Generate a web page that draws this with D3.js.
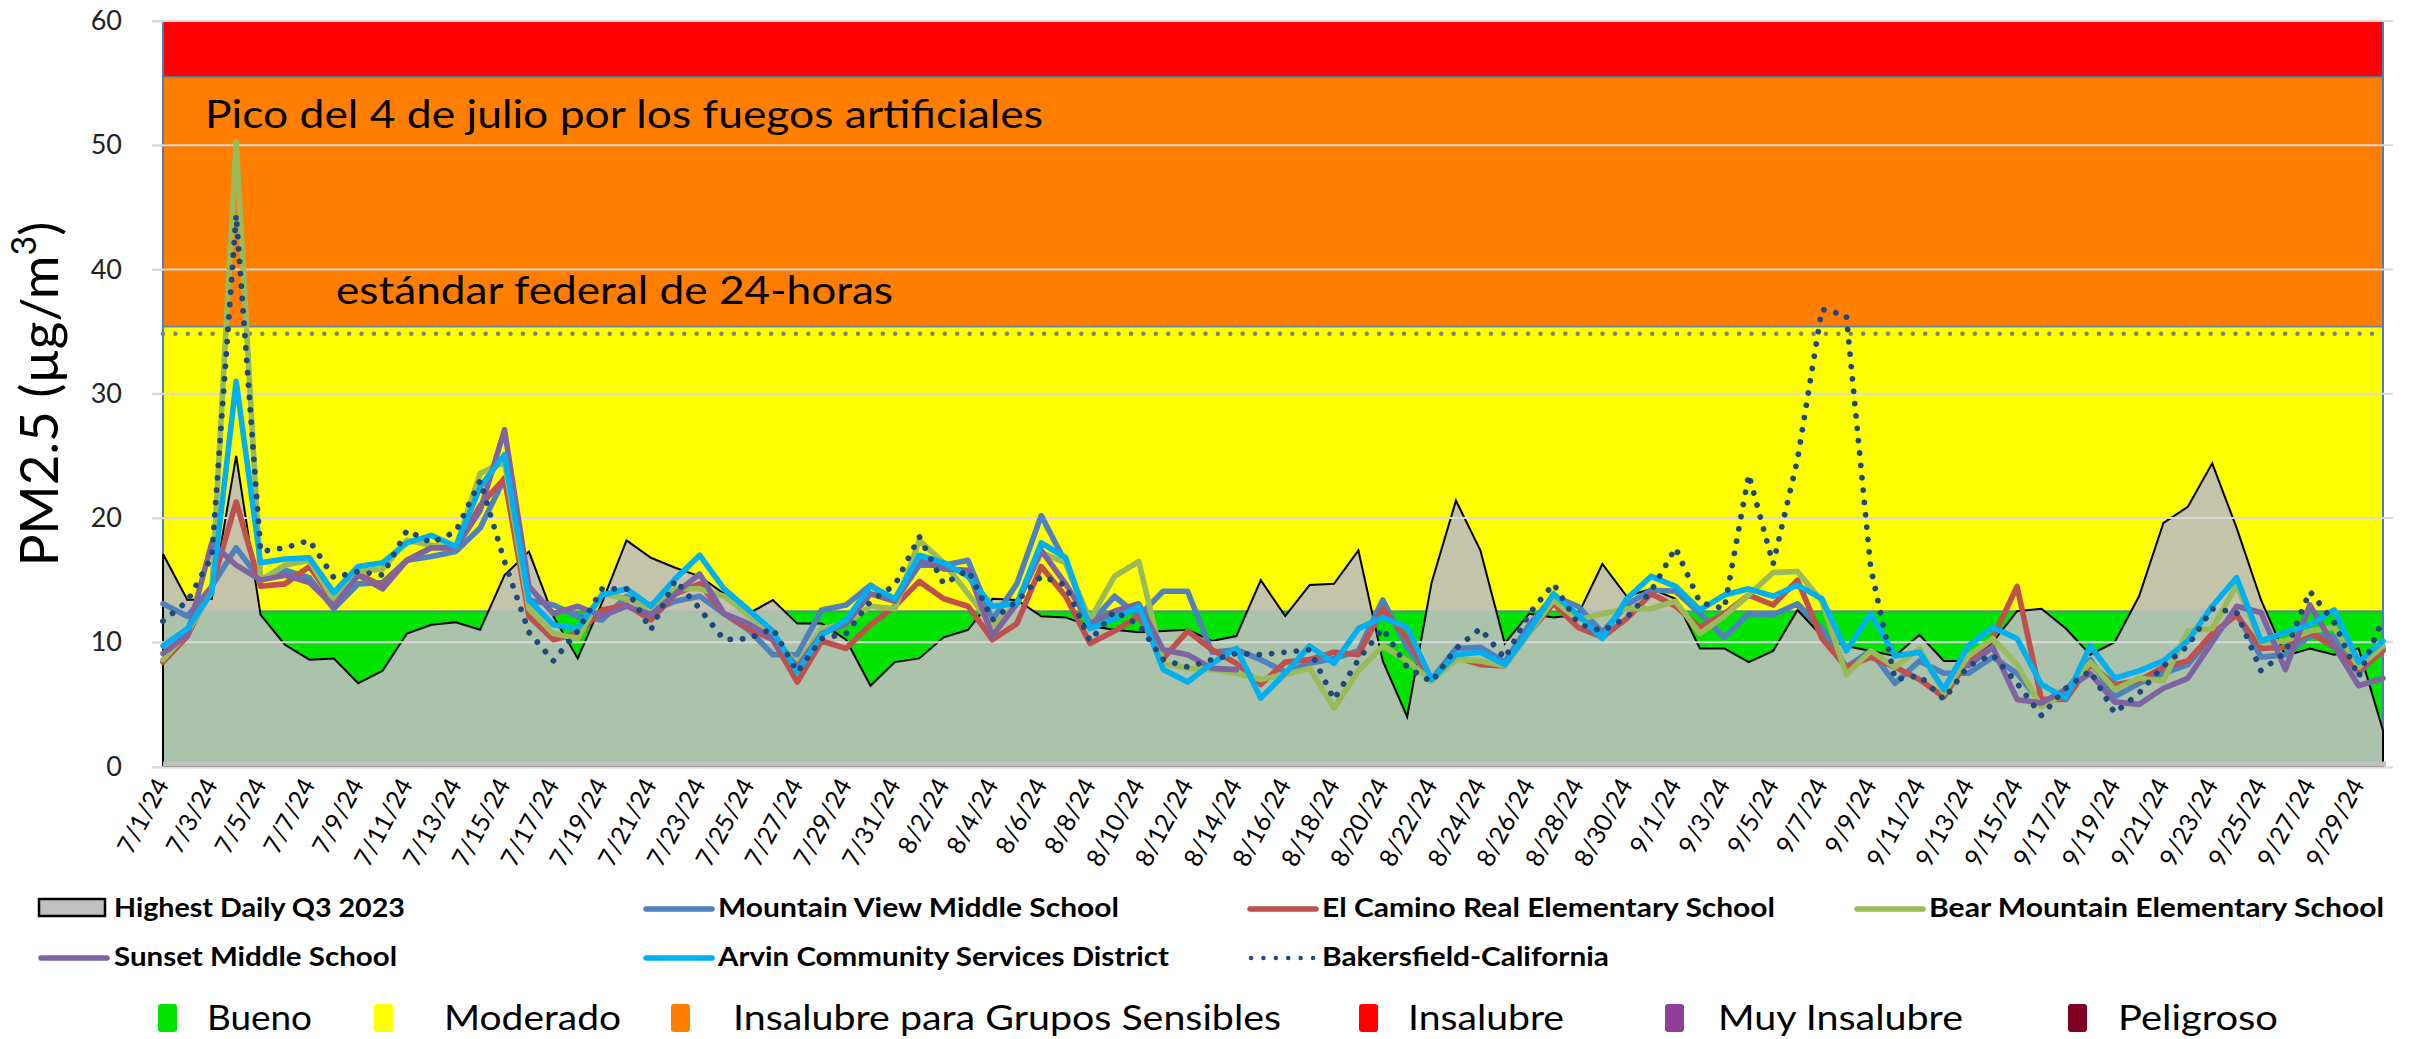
<!DOCTYPE html>
<html><head><meta charset="utf-8">
<script src="https://cdn.jsdelivr.net/npm/d3@7"></script>
<style>body{margin:0;background:#fff} svg{display:block}</style>
</head><body><svg id="c" width="2415" height="1039"></svg>
<script>
const categories = [
"7/1/24","7/2/24","7/3/24","7/4/24","7/5/24","7/6/24","7/7/24","7/8/24","7/9/24","7/10/24",
"7/11/24","7/12/24","7/13/24","7/14/24","7/15/24","7/16/24","7/17/24","7/18/24","7/19/24","7/20/24",
"7/21/24","7/22/24","7/23/24","7/24/24","7/25/24","7/26/24","7/27/24","7/28/24","7/29/24","7/30/24","7/31/24",
"8/1/24","8/2/24","8/3/24","8/4/24","8/5/24","8/6/24","8/7/24","8/8/24","8/9/24","8/10/24",
"8/11/24","8/12/24","8/13/24","8/14/24","8/15/24","8/16/24","8/17/24","8/18/24","8/19/24","8/20/24",
"8/21/24","8/22/24","8/23/24","8/24/24","8/25/24","8/26/24","8/27/24","8/28/24","8/29/24","8/30/24","8/31/24",
"9/1/24","9/2/24","9/3/24","9/4/24","9/5/24","9/6/24","9/7/24","9/8/24","9/9/24","9/10/24",
"9/11/24","9/12/24","9/13/24","9/14/24","9/15/24","9/16/24","9/17/24","9/18/24","9/19/24","9/20/24",
"9/21/24","9/22/24","9/23/24","9/24/24","9/25/24","9/26/24","9/27/24","9/28/24","9/29/24","9/30/24"];

const highestQ3_2023 = [17.1,13.4,13.5,25.0,12.2,9.8,8.6,8.7,6.7,7.7,10.7,11.4,11.6,11.0,15.4,17.3,12.1,8.7,13.2,18.2,
16.8,16.0,15.3,13.9,12.3,13.4,11.5,11.5,10.2,6.5,8.4,8.7,10.4,11.0,13.5,13.4,12.1,12.0,11.3,11.0,
10.8,10.9,11.0,10.1,10.5,15.0,12.1,14.6,14.7,17.4,8.5,4.0,14.8,21.4,17.4,9.9,12.3,12.0,12.2,16.3,
13.7,14.3,13.5,9.5,9.5,8.4,9.3,12.6,10.5,9.7,9.3,8.9,10.6,8.5,8.5,10.0,12.5,12.7,11.1,9.0,
10.0,13.7,19.6,20.9,24.4,19.2,13.4,8.9,9.5,9.0,9.5,2.9];

const mountainView = [13.1,12.1,14.5,17.6,15.0,15.8,15.2,12.7,14.7,14.8,16.6,16.9,17.3,19.2,23.2,13.4,13.0,12.1,11.8,13.7,
12.5,13.3,13.7,12.3,11.0,9.0,9.0,12.6,13.0,14.6,13.3,16.2,16.2,16.6,11.8,14.7,20.2,16.4,11.5,13.7,
12.1,14.1,14.1,9.2,9.4,8.6,7.6,8.3,8.7,9.3,13.4,9.6,7.0,9.5,9.6,8.4,11.4,13.7,12.9,10.8,
13.0,14.2,14.1,12.3,10.4,12.3,12.2,13.1,11.1,8.0,9.3,6.7,8.5,7.5,7.5,8.8,7.5,5.1,6.1,8.6,
5.6,6.7,7.5,8.2,10.5,12.3,8.8,9.0,10.5,10.5,7.5,9.5];

const elCamino = [8.4,10.5,14.5,21.3,14.5,14.7,16.1,13.3,15.5,14.5,16.6,17.6,17.6,21.0,23.2,12.1,10.2,10.7,12.6,13.0,
11.8,13.9,14.7,12.3,11.1,10.2,6.8,10.1,9.5,11.4,12.9,14.9,13.5,12.9,10.2,11.5,16.1,13.7,9.9,10.9,
12.1,8.7,10.9,9.4,8.3,6.6,8.4,8.6,9.2,9.0,12.7,10.3,6.9,8.8,8.2,8.1,10.8,13.1,11.2,10.4,
11.9,13.9,12.9,11.2,12.3,13.8,13.0,15.0,10.3,8.0,8.8,8.0,7.0,5.6,8.6,10.3,14.5,5.4,5.4,8.2,
6.6,6.9,8.0,8.5,10.7,12.2,9.5,9.6,10.8,9.6,7.7,9.3];

const bearMountain = [8.6,10.8,14.1,50.3,15.0,16.2,16.6,13.4,15.7,15.9,18.2,17.8,17.6,23.6,24.5,12.7,10.7,10.3,13.9,13.5,
12.7,14.3,14.3,13.7,12.2,10.5,8.2,11.1,11.5,12.9,12.7,18.2,16.4,13.9,11.3,13.1,17.2,16.4,11.8,15.3,
16.5,8.3,7.9,7.8,7.5,7.0,7.4,7.9,4.7,7.7,9.7,8.5,6.9,8.6,8.5,8.1,10.8,13.4,11.8,12.3,
12.7,12.7,13.3,10.7,12.1,13.8,15.6,15.7,13.3,7.4,9.3,8.0,9.5,5.9,8.9,10.3,8.2,4.8,5.9,8.4,
6.2,7.1,6.9,10.9,11.1,14.6,10.0,10.1,10.9,11.2,8.0,9.7];

const sunset = [9.1,10.6,18.0,16.2,15.0,15.4,14.8,12.9,15.4,14.3,16.6,17.6,17.6,20.6,27.1,14.5,12.3,12.9,12.1,12.9,
12.2,13.9,15.5,12.3,11.5,10.3,8.0,10.7,11.5,13.9,13.3,16.6,15.9,15.8,10.5,13.1,17.4,14.7,11.5,12.5,
13.1,9.4,9.0,7.9,7.8,null,null,null,null,null,null,null,null,null,null,null,null,null,null,null,
null,null,null,null,null,null,null,null,null,null,null,null,null,null,8.1,9.6,5.4,5.1,6.2,7.5,
5.2,5.0,6.3,7.1,10.0,12.9,12.4,7.8,13.0,9.7,6.5,7.1];

const arvin = [9.7,11.1,14.0,31.0,16.4,16.7,16.8,14.0,16.1,16.4,18.0,18.6,17.7,22.5,25.1,13.4,11.4,11.1,13.8,14.3,
12.9,15.1,17.0,14.3,12.6,10.9,7.6,10.6,11.8,14.5,13.5,17.0,16.4,15.3,12.9,13.1,18.0,16.8,11.1,11.9,
12.9,7.8,6.8,8.3,9.5,5.5,7.5,9.7,8.3,11.1,12.0,11.2,7.0,9.0,9.2,8.2,10.9,13.9,12.2,10.3,
13.5,15.3,14.5,12.6,13.8,14.3,13.7,14.6,13.5,9.3,12.3,8.9,9.2,6.2,9.7,11.2,10.3,6.6,5.5,9.7,
7.1,7.7,8.5,10.1,12.9,15.2,10.1,10.8,11.4,12.6,8.4,10.1];

const bakersfield = [11.7,13.3,16.9,44.4,17.3,17.6,18.2,15.2,15.7,15.4,19.0,18.0,18.9,23.0,16.5,10.8,8.5,10.9,14.3,14.3,
11.0,15.0,12.7,10.2,10.3,11.1,7.6,10.3,10.7,13.3,14.6,18.5,14.7,15.8,11.8,13.3,15.3,14.6,10.1,12.5,
11.4,8.6,8.0,8.6,9.1,9.0,9.2,9.4,5.4,8.6,11.1,8.0,6.8,9.5,11.1,8.7,12.3,14.7,11.5,10.9,
12.0,14.1,17.6,13.2,12.7,23.5,16.3,24.7,36.8,36.3,16.0,7.0,7.3,5.4,8.1,9.0,6.7,4.1,6.3,7.7,
4.3,5.9,8.1,9.7,12.7,12.4,7.7,9.2,14.1,11.6,7.2,11.9];

const seriesNames = ["Highest Daily Q3 2023","Mountain View Middle School","El Camino Real Elementary School",
  "Bear Mountain Elementary School","Sunset Middle School","Arvin Community Services District","Bakersfield-California"];
const seriesColors = ["#c0c0c0","#4f81bd","#c0504d","#9bbb59","#8064a2","#00b0f0","#1f497d"];

const yTicks = [0,10,20,30,40,50,60];
const xTickLabels = categories.filter((d,i)=>i%2===0);
const federalStandard = 35;

const aqiNames = ["Bueno","Moderado","Insalubre para Grupos Sensibles","Insalubre","Muy Insalubre","Peligroso"];
const aqiColors = ["#00e400","#ffff00","#ff7e00","#ff0000","#8f3f97","#7e0023"];
const aqiBreaks = [0,12.5,35.4,55.5,60];

const annotations = ["Pico del 4 de julio por los fuegos artificiales","estándar federal de 24-horas"];

// ---------- layout ----------
const svg = d3.select("#c");
const L = 163, R = 2383, T = 21, B = 766.5;
const FONT = "Lato, 'Open Sans', sans-serif";
const x = d3.scalePoint().domain(categories).range([L, R]).padding(0);
const y = d3.scaleLinear().domain([0,60]).range([B, T]);

// AQI bands
const bands = svg.append("g");
for (let k = 0; k < aqiBreaks.length - 1; k++) {
  bands.append("rect")
    .attr("x", L).attr("width", R - L)
    .attr("y", y(aqiBreaks[k+1])).attr("height", y(aqiBreaks[k]) - y(aqiBreaks[k+1]))
    .attr("fill", aqiColors[k]);
}
for (let k = 1; k < aqiBreaks.length; k++) {
  bands.append("line").attr("x1", L).attr("x2", R)
    .attr("y1", y(aqiBreaks[k])).attr("y2", y(aqiBreaks[k]))
    .attr("stroke", "#4a7ebb").attr("stroke-width", k===1?2:1.6).attr("opacity", 0.85);
}
bands.append("line").attr("x1", L).attr("x2", L).attr("y1", T).attr("y2", B).attr("stroke", "#4a7ebb").attr("stroke-width", 2);
bands.append("line").attr("x1", R).attr("x2", R).attr("y1", T).attr("y2", B).attr("stroke", "#4a7ebb").attr("stroke-width", 2);

// federal standard dotted line
svg.append("line").attr("x1", L).attr("x2", R)
  .attr("y1", y(federalStandard) + 2).attr("y2", y(federalStandard) + 2)
  .attr("stroke", "#808080").attr("stroke-width", 4.5)
  .attr("stroke-dasharray", "0.01 12.4").attr("stroke-linecap", "round");

// Highest daily area
const area = d3.area().x((d,i)=>x(categories[i])).y0(y(0)).y1(d=>y(d));
svg.append("path").datum(highestQ3_2023).attr("d", area)
  .attr("fill", "rgb(190,190,190)").attr("fill-opacity", 0.9)
  .attr("stroke", "#000").attr("stroke-width", 2).attr("stroke-linejoin", "miter");

// gridlines
svg.append("g").selectAll("line").data(yTicks.filter(v=>v>0)).join("line")
  .attr("x1", 152).attr("x2", 2393)
  .attr("y1", d=>y(d)).attr("y2", d=>y(d))
  .attr("stroke", "#d9d9d9").attr("stroke-width", 2);

// x axis base
svg.append("rect").attr("x", L).attr("width", R - L + 3).attr("y", B - 5).attr("height", 5).attr("fill", "#bfbfbf");
svg.append("line").attr("x1", 152).attr("x2", 2393).attr("y1", B + 1).attr("y2", B + 1)
  .attr("stroke", "#d9d9d9").attr("stroke-width", 2);

// y axis ticks & labels
const yAxis = d3.axisLeft(y).tickValues(yTicks).tickSize(11).tickPadding(30).tickFormat(d3.format("d"));
const ya = svg.append("g").attr("transform", `translate(${L},0)`).call(yAxis);
ya.select(".domain").remove();
ya.selectAll(".tick line").attr("stroke", "#d9d9d9").attr("stroke-width", 2);
ya.selectAll(".tick text").attr("font-family", FONT).attr("font-size", 27).attr("fill", "#222");

// y axis title
const yt = svg.append("text").attr("transform", "translate(58,394) rotate(-90)")
  .attr("text-anchor", "middle").attr("font-family", FONT).attr("font-size", 53).attr("fill", "#000");
yt.append("tspan").text("PM2.5 (µg/m");
yt.append("tspan").text("3").attr("font-size", 34).attr("dy", -22);
yt.append("tspan").text(")").attr("dy", 22);

// x axis labels
const xAxis = d3.axisBottom(x).tickValues(xTickLabels).tickSize(0).tickPadding(0);
const xa = svg.append("g").attr("transform", `translate(0,${B})`).call(xAxis);
xa.select(".domain").remove();
xa.selectAll(".tick text")
  .attr("font-family", FONT).attr("font-size", 25).attr("fill", "#000")
  .attr("text-anchor", "end").attr("dy", 0)
  .attr("transform", "translate(6,18) rotate(-62)");

// series lines
const lineGen = d3.line().defined(d=>d!=null).x((d,i)=>x(categories[i])).y(d=>y(d));
const lineSeries = [mountainView, elCamino, bearMountain, sunset, arvin];
lineSeries.forEach((s, k) => {
  svg.append("path").datum(s).attr("d", lineGen)
    .attr("fill", "none").attr("stroke", seriesColors[k+1]).attr("stroke-width", 5.6)
    .attr("stroke-linejoin", "round").attr("stroke-linecap", "round");
});
svg.append("path").datum(bakersfield).attr("d", lineGen)
  .attr("fill", "none").attr("stroke", seriesColors[6]).attr("stroke-width", 5.8)
  .attr("stroke-dasharray", "0.01 12.4").attr("stroke-linecap", "round").attr("stroke-linejoin", "round");

// annotations
svg.append("text").attr("x", 205).attr("y", 128).text(annotations[0])
  .attr("font-family", FONT).attr("font-size", 39).attr("fill", "#000")
  .attr("textLength", 838).attr("lengthAdjust", "spacingAndGlyphs");
svg.append("text").attr("x", 336).attr("y", 304).text(annotations[1])
  .attr("font-family", FONT).attr("font-size", 39).attr("fill", "#000")
  .attr("textLength", 557).attr("lengthAdjust", "spacingAndGlyphs");

// series legend
const legRows = [917, 966];
const legItems = [
  {k:0, sx:39, tx:114, tw:291, row:0},
  {k:1, sx:644, tx:718, tw:401, row:0},
  {k:2, sx:1248, tx:1322, tw:453, row:0},
  {k:3, sx:1855, tx:1929, tw:455, row:0},
  {k:4, sx:39, tx:114, tw:283, row:1},
  {k:5, sx:644, tx:718, tw:451, row:1},
  {k:6, sx:1248, tx:1322, tw:287, row:1}
];
const leg = svg.append("g");
legItems.forEach(it => {
  const by = legRows[it.row];
  if (it.k === 0) {
    leg.append("rect").attr("x", it.sx).attr("y", by - 18).attr("width", 66).attr("height", 17)
      .attr("fill", "#c0c0c0").attr("stroke", "#000").attr("stroke-width", 2.5);
  } else if (it.k === 6) {
    leg.append("line").attr("x1", it.sx + 3).attr("x2", it.sx + 68).attr("y1", by - 8).attr("y2", by - 8)
      .attr("stroke", seriesColors[6]).attr("stroke-width", 4.5)
      .attr("stroke-dasharray", "0.01 12.4").attr("stroke-linecap", "round");
  } else {
    leg.append("line").attr("x1", it.sx + 2).attr("x2", it.sx + 68).attr("y1", by - 8).attr("y2", by - 8)
      .attr("stroke", seriesColors[it.k]).attr("stroke-width", 5.5).attr("stroke-linecap", "round");
  }
  leg.append("text").attr("x", it.tx).attr("y", by).text(seriesNames[it.k])
    .attr("font-family", FONT).attr("font-weight", 700).attr("font-size", 26).attr("fill", "#000")
    .attr("textLength", it.tw).attr("lengthAdjust", "spacingAndGlyphs");
});

// AQI legend
const aqiSq = [158, 374, 671, 1359, 1665, 2068];
const aqiTx = [207, 444, 733, 1408, 1718, 2118];
const aqiTw = [105, 177, 548, 156, 245, 160];
aqiNames.forEach((n, k) => {
  leg.append("rect").attr("x", aqiSq[k]).attr("y", 1004).attr("width", 19).attr("height", 28)
    .attr("rx", 3).attr("fill", aqiColors[k]);
  leg.append("text").attr("x", aqiTx[k]).attr("y", 1030).text(n)
    .attr("font-family", FONT).attr("font-size", 34).attr("fill", "#000")
    .attr("textLength", aqiTw[k]).attr("lengthAdjust", "spacingAndGlyphs");
});
</script></body></html>
